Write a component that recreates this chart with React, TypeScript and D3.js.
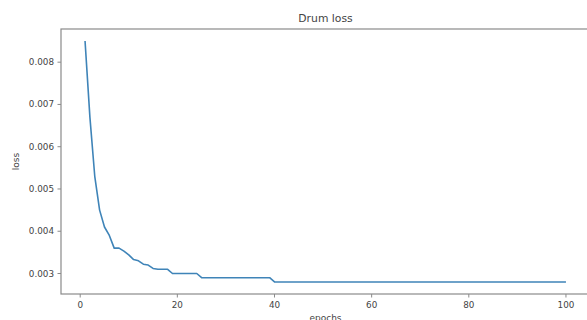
import React from "react";
import * as d3 from "d3";

const epochs: number[] = Array.from({ length: 100 }, (_, i) => i + 1);
const lossHead: number[] = [
  0.0085, 0.0067, 0.0053, 0.0045, 0.0041, 0.0039, 0.0036, 0.0036, 0.00353, 0.00344,
  0.00333, 0.0033, 0.00322, 0.0032, 0.00312, 0.0031, 0.0031, 0.0031, 0.0030, 0.0030,
  0.0030, 0.0030, 0.0030, 0.0030,
];
const lossMid: number[] = new Array(15).fill(0.0029); // epochs 25..39
const lossTail: number[] = new Array(61).fill(0.0028); // epochs 40..100
const loss: number[] = [...lossHead, ...lossMid, ...lossTail];
const xTicks: number[] = [0, 20, 40, 60, 80, 100];
const yTicks: number[] = [0.003, 0.004, 0.005, 0.006, 0.007, 0.008];

export default function App() {
  const W = 587, H = 320;
  const left = 61, right = 590, top = 29, bottom = 294;
  const xmin = 1, xmax = 100;
  const xm = (xmax - xmin) * 0.05;
  const ymin = d3.min(loss)!, ymax = d3.max(loss)!;
  const ym = (ymax - ymin) * 0.05;
  const x = d3.scaleLinear().domain([xmin - xm, xmax + xm]).range([left, right]);
  const y = d3.scaleLinear().domain([ymin - ym, ymax + ym]).range([bottom, top]);
  const line = d3.line<number>().x((_, i) => x(epochs[i])).y((d) => y(d));
  const font = "DejaVu Sans, sans-serif";
  const tc = "#444";
  const sc = "#8a8a8a";
  return (
    <svg width={W} height={H} style={{ position: "absolute", left: 0, top: 0, background: "#fff" }}>
      <rect x={0} y={0} width={W} height={H} fill="#fff" />
      <text x={(left + right) / 2} y={22} textAnchor="middle" fontFamily={font} fontSize={10.8} fill="#444">
        Drum loss
      </text>
      <path d={line(loss) || ""} fill="none" stroke="#3f84b8" strokeWidth={1.6} strokeLinejoin="round" />
      <rect x={left} y={top} width={right - left} height={bottom - top} fill="none" stroke={sc} strokeWidth={1.2} />
      {xTicks.map((t) => (
        <g key={"x" + t}>
          <line x1={x(t)} x2={x(t)} y1={bottom} y2={bottom + 3.5} stroke={sc} strokeWidth={1} />
          <text x={x(t)} y={bottom + 14} textAnchor="middle" fontFamily={font} fontSize={8.8} fill={tc}>
            {t}
          </text>
        </g>
      ))}
      {yTicks.map((t) => (
        <g key={"y" + t}>
          <line x1={left - 3.5} x2={left} y1={y(t)} y2={y(t)} stroke={sc} strokeWidth={1} />
          <text x={left - 7} y={y(t) + 3} textAnchor="end" fontFamily={font} fontSize={8.8} fill={tc}>
            {t.toFixed(3)}
          </text>
        </g>
      ))}
      <text x={(left + right) / 2} y={320.5} textAnchor="middle" fontFamily={font} fontSize={9} fill={tc}>
        epochs
      </text>
      <text
        transform={`translate(19, ${(top + bottom) / 2}) rotate(-90)`}
        textAnchor="middle"
        fontFamily={font}
        fontSize={9}
        fill={tc}
      >
        loss
      </text>
    </svg>
  );
}
